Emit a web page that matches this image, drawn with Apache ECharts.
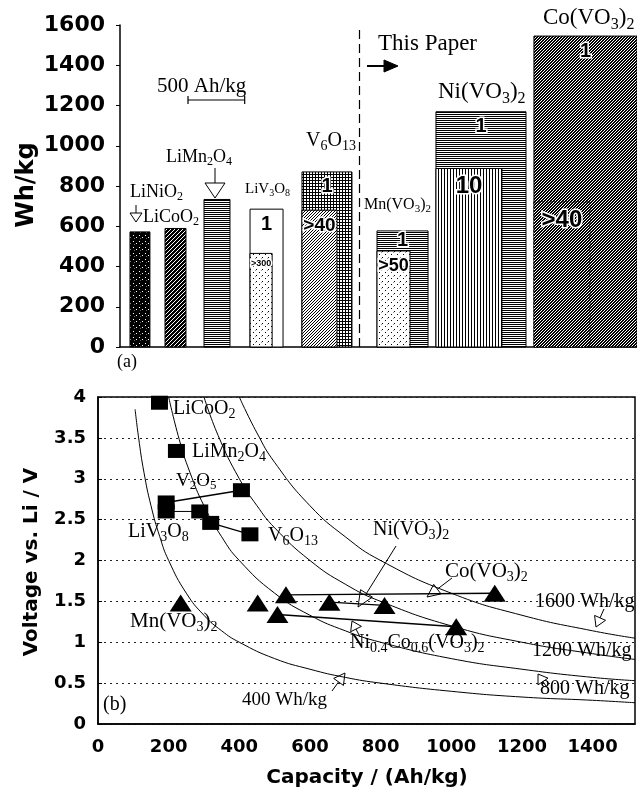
<!DOCTYPE html>
<html>
<head>
<meta charset="utf-8">
<title>Energy density and voltage vs capacity</title>
<script src="https://cdn.jsdelivr.net/npm/echarts@6/dist/echarts.min.js"></script>
<style>
  html, body { margin: 0; padding: 0; background: #fff; }
  #chart { width: 637px; height: 795px; }
</style>
</head>
<body>
<div id="chart"></div>
<script>
// ---- (a) bars: width = capacity (Ah/kg), height = energy (Wh/kg)
var barNames = ['LiNiO2', 'LiCoO2', 'LiMn2O4', 'LiV3O8', 'V6O13', 'Mn(VO3)2', 'Ni(VO3)2', 'Co(VO3)2'];
var barStart = [88, 397, 741, 1147, 1605, 2267, 2787, 3651];
var barCapacity = [176, 185, 229, 291, 441, 450, 794, 1123];
var barEnergy = [572, 589, 733, 685, 870, 577, 1169, 1545];
var innerCapacity = [0, 0, 0, 195, 309, 291, 582, 494];
var innerEnergy = [0, 0, 0, 465, 680, 477, 887, 721];
var outerLabel = ['', '', '', '1', '1', '1', '1', '1'];
var innerLabel = ['', '', '', '>300', '>40', '>50', '10', '>40'];
var dividerAt = 2110;
var energyTicks = [0, 200, 400, 600, 800, 1000, 1200, 1400, 1600];

// ---- (b) voltage vs capacity
var squareCap = [174, 222, 406, 193, 193, 288, 319, 430];
var squareVolt = [3.93, 3.34, 2.86, 2.71, 2.60, 2.60, 2.46, 2.32];
var triCap = [234, 452, 532, 508, 655, 811, 1014, 1123];
var triVolt = [1.48, 1.48, 1.58, 1.34, 1.49, 1.45, 1.19, 1.60];
var v2o5Line = [[193, 2.71], [406, 2.86]];
var liv3o8Line = [[193, 2.60], [288, 2.60]];
var v6o13Line = [[319, 2.46], [430, 2.32]];
var coLine = [[532, 1.58], [1123, 1.60]];
var niLine = [[655, 1.49], [811, 1.45]];
var niCoLine = [[508, 1.34], [1014, 1.19]];
var curve400 = [[105, 3.85], [115, 3.5], [130, 3.08], [150, 2.67], [175, 2.29], [200, 2.0], [250, 1.6], [300, 1.33], [350, 1.14], [400, 1.0], [500, 0.8], [600, 0.67], [700, 0.57], [800, 0.5], [1000, 0.4], [1200, 0.33], [1400, 0.29], [1520, 0.26]];
var curve800 = [[200, 4.0], [230, 3.48], [260, 3.08], [300, 2.67], [350, 2.29], [400, 2.0], [500, 1.6], [600, 1.33], [700, 1.14], [800, 1.0], [1000, 0.8], [1200, 0.67], [1400, 0.57], [1520, 0.53]];
var curve1200 = [[300, 4.0], [340, 3.53], [400, 3.0], [450, 2.67], [500, 2.4], [600, 2.0], [700, 1.71], [800, 1.5], [1000, 1.2], [1200, 1.0], [1400, 0.86], [1520, 0.79]];
var curve1600 = [[400, 4.0], [450, 3.56], [500, 3.2], [600, 2.67], [700, 2.29], [800, 2.0], [1000, 1.6], [1200, 1.33], [1400, 1.14], [1520, 1.05]];

var SANS = 'DejaVu Sans';
var SERIF = 'Liberation Serif';

// small fill textures, like the hatching of the print
function makePattern(size, bg, draw) {
    var c = document.createElement('canvas');
    c.width = size;
    c.height = size;
    var g = c.getContext('2d');
    g.fillStyle = bg;
    g.fillRect(0, 0, size, size);
    g.fillStyle = bg === '#000' ? '#fff' : '#000';
    draw(g);
    return { image: c, repeat: 'repeat' };
}
var pats = {
    speck: makePattern(6, '#000', function (g) { g.fillRect(1, 1, 1, 1); g.fillRect(4, 3, 1, 1); g.fillStyle = '#666'; g.fillRect(2, 4, 1, 1); }),
    hatchBlack: makePattern(4, '#000', function (g) { for (var k = 0; k < 4; k++) g.fillRect(k, 3 - k, 1, 1); }),
    lines2: makePattern(2, '#fff', function (g) { g.fillRect(0, 0, 2, 1); }),
    stipple: makePattern(6, '#fff', function (g) { g.fillRect(1, 2, 1, 1); g.fillRect(4, 5, 1, 1); g.fillStyle = '#999'; g.fillRect(3, 0, 1, 1); }),
    check: makePattern(3, '#fff', function (g) { g.fillRect(0, 0, 3, 1); g.fillRect(0, 0, 1, 3); }),
    hatch: makePattern(3, '#fff', function (g) { for (var k = 0; k < 3; k++) g.fillRect(k, 2 - k, 1, 1); }),
    hatchHeavy: makePattern(3, '#000', function (g) { for (var k = 0; k < 3; k++) g.fillRect(k, 2 - k, 1, 1); }),
    vlines: makePattern(3, '#fff', function (g) { g.fillRect(0, 0, 1, 3); }),
    white: '#fff'
};
var outerFill = ['speck', 'hatchBlack', 'lines2', 'white', 'check', 'lines2', 'lines2', 'hatchHeavy'];
var innerFill = ['', '', '', 'stipple', 'hatch', 'stipple', 'vlines', 'hatchHeavy'];

var barData = barNames.map(function (n, i) {
    return [barStart[i], barStart[i] + barCapacity[i], barEnergy[i], barStart[i] + innerCapacity[i], innerEnergy[i], i];
});

function renderBar(params, api) {
    var cs = params.coordSys;
    var xMax = cs.x + cs.width;
    var i = api.value(5);
    var base = api.coord([0, 0])[1];
    var x0 = api.coord([api.value(0), 0])[0];
    var x1 = Math.min(api.coord([api.value(1), 0])[0], xMax);
    var top = api.coord([0, api.value(2)])[1];
    var kids = [{
        type: 'rect',
        shape: { x: x0, y: top, width: x1 - x0, height: base - top },
        style: { fill: pats[outerFill[i]], stroke: '#000', lineWidth: 1 }
    }];
    var innerTop = base;
    if (api.value(4) > 0) {
        var ix1 = Math.min(api.coord([api.value(3), 0])[0], xMax);
        innerTop = api.coord([0, api.value(4)])[1];
        kids.push({
            type: 'rect',
            shape: { x: x0, y: innerTop, width: ix1 - x0, height: base - innerTop },
            style: { fill: pats[innerFill[i]], stroke: '#000', lineWidth: 1, lineDash: i === 7 ? [2, 2] : null }
        });
        var t = innerLabel[i];
        var fs = Math.min(24, Math.round((ix1 - x0) / (t.length * 0.6)));
        kids.push({
            type: 'text',
            style: {
                text: t, x: (x0 + ix1) / 2, y: innerTop + fs * 0.5 + 6,
                font: 'bold ' + fs + 'px "Liberation Sans"', fill: '#000',
                stroke: '#fff', lineWidth: 3,
                align: 'center', verticalAlign: 'middle', textAlign: 'center', textVerticalAlign: 'middle'
            }
        });
    }
    if (outerLabel[i]) {
        var gap = innerTop - top;
        kids.push({
            type: 'text',
            style: {
                text: outerLabel[i], x: (x0 + x1) / 2, y: top + Math.min(15, gap / 2),
                font: 'bold 20px "Liberation Sans"', fill: '#000',
                stroke: '#fff', lineWidth: 3,
                align: 'center', verticalAlign: 'middle', textAlign: 'center', textVerticalAlign: 'middle'
            }
        });
    }
    return { type: 'group', children: kids };
}

// chemical formula -> rich text; "_x" or "_[xy]" is a subscript
function chem(s) {
    var out = '', buf = '';
    for (var i = 0; i < s.length; i++) {
        if (s[i] === '_') {
            if (buf) { out += '{n|' + buf + '}'; buf = ''; }
            var sub;
            if (s[i + 1] === '[') { var j = s.indexOf(']', i); sub = s.slice(i + 2, j); i = j; }
            else { sub = s[i + 1]; i++; }
            out += '{s|' + sub + '}';
        } else {
            buf += s[i];
        }
    }
    if (buf) out += '{n|' + buf + '}';
    return out;
}
function label(text, x, y, size) {
    return {
        type: 'text', x: x, y: y, silent: true,
        style: {
            text: chem(text), fill: '#000',
            align: 'left', verticalAlign: 'middle', textAlign: 'left', textVerticalAlign: 'middle',
            rich: {
                n: { fontFamily: SERIF, fontSize: size, fill: '#000' },
                s: { fontFamily: SERIF, fontSize: Math.round(size * 0.68), fill: '#000', padding: [Math.round(size * 0.55), 0, 0, 0] }
            }
        }
    };
}
function title(text, x, y, size, rot) {
    return {
        type: 'text', x: x, y: y, rotation: rot || 0, silent: true,
        style: {
            text: text, fill: '#000', font: 'bold ' + size + 'px "' + SANS + '"',
            align: 'center', verticalAlign: 'middle', textAlign: 'center', textVerticalAlign: 'middle'
        }
    };
}
function arrow(x1, y1, x2, y2, len, w, filled, lw) {
    var dx = x2 - x1, dy = y2 - y1, d = Math.sqrt(dx * dx + dy * dy);
    var ux = dx / d, uy = dy / d;
    var bx = x2 - ux * len, by = y2 - uy * len;
    return [
        { type: 'line', silent: true, shape: { x1: x1, y1: y1, x2: bx, y2: by }, style: { stroke: '#000', lineWidth: lw || 1 } },
        { type: 'polygon', silent: true, shape: { points: [[x2, y2], [bx - uy * w, by + ux * w], [bx + uy * w, by - ux * w]] },
          style: { fill: filled ? '#000' : '#fff', stroke: '#000', lineWidth: 1 } }
    ];
}

var axisLine = { show: true, lineStyle: { color: '#000', width: 1.5 } };
function segment(data, width, smooth) {
    return {
        type: 'line', xAxisIndex: 1, yAxisIndex: 1, data: data, symbol: 'none', silent: true,
        smooth: !!smooth, lineStyle: { color: '#000', width: width }, z: 3
    };
}
function plain(v) { return String(v); }

var chart = echarts.init(document.getElementById('chart'), null, { renderer: 'canvas' });
chart.setOption({
    animation: false,
    backgroundColor: '#fff',
    grid: [
        { left: 120, top: 25, width: 517, height: 322 },
        { left: 98, top: 397, width: 537, height: 327, show: true, borderColor: '#000', borderWidth: 1.5 }
    ],
    xAxis: [
        { gridIndex: 0, type: 'value', min: 0, max: 4560, axisLine: axisLine, axisTick: { show: false }, axisLabel: { show: false }, splitLine: { show: false } },
        {
            gridIndex: 1, type: 'value', min: 0, max: 1520, interval: 200,
            axisLine: axisLine, axisTick: { show: false }, splitLine: { show: false },
            axisLabel: { showMaxLabel: false, margin: 14, color: '#000', fontFamily: SANS, fontWeight: 'bold', fontSize: 18, formatter: plain }
        }
    ],
    yAxis: [
        {
            gridIndex: 0, type: 'value', min: 0, max: 1600, interval: 200,
            axisLine: axisLine, axisTick: { show: true, length: 4, lineStyle: { color: '#000' } }, splitLine: { show: false },
            axisLabel: { margin: 15, color: '#000', fontFamily: SANS, fontWeight: 'bold', fontSize: 22,
                formatter: function (v) { return energyTicks.indexOf(v) >= 0 ? String(v) : ''; } }
        },
        {
            gridIndex: 1, type: 'value', min: 0, max: 4, interval: 0.5,
            axisLine: axisLine, axisTick: { show: true, inside: true, length: 4, lineStyle: { color: '#000' } },
            splitLine: { show: true, lineStyle: { color: '#222', width: 1.2, type: [2, 4] } },
            axisLabel: { margin: 12, color: '#000', fontFamily: SANS, fontWeight: 'bold', fontSize: 18, formatter: plain }
        }
    ],
    series: [
        {
            type: 'custom', xAxisIndex: 0, yAxisIndex: 0, silent: true,
            renderItem: renderBar, data: barData,
            markLine: {
                silent: true, symbol: 'none', label: { show: false },
                lineStyle: { color: '#000', width: 1.2, type: [9, 5] },
                data: [{ xAxis: dividerAt }]
            }
        },
        segment(curve400, 1, true), segment(curve800, 1, true), segment(curve1200, 1, true), segment(curve1600, 1, true),
        segment(v2o5Line, 1.4), segment(liv3o8Line, 1), segment(v6o13Line, 1.2),
        segment(coLine, 1.4), segment(niLine, 1.2), segment(niCoLine, 1.4),
        {
            type: 'scatter', xAxisIndex: 1, yAxisIndex: 1, silent: true, z: 5,
            symbol: 'rect', symbolSize: [17, 14], itemStyle: { color: '#000', opacity: 1 },
            data: squareCap.map(function (c, i) { return [c, squareVolt[i]]; })
        },
        {
            type: 'scatter', xAxisIndex: 1, yAxisIndex: 1, silent: true, z: 5,
            symbol: 'triangle', symbolSize: [22, 17], itemStyle: { color: '#000', opacity: 1 },
            data: triCap.map(function (c, i) { return [c, triVolt[i]]; })
        }
    ]
});

// scale bar "500 Ah/kg" from the top axis
var sb0 = 188;
var sbLen = chart.convertToPixel({ xAxisIndex: 0 }, 500) - chart.convertToPixel({ xAxisIndex: 0 }, 0);

var g = [
    title('Wh/kg', 27, 185, 24, Math.PI / 2),
    title('Voltage vs. Li / V', 32, 562, 20, Math.PI / 2),
    title('Capacity / (Ah/kg)', 367, 778, 20),
    // (a)
    label('LiNiO_2', 130, 192, 18),
    label('LiCoO_2', 143, 217, 18),
    label('LiMn_2O_4', 166, 157, 18),
    label('LiV_3O_8', 245, 189, 15),
    label('V_6O_[13]', 306, 141, 20),
    label('Mn(VO_3)_2', 364, 205, 16),
    label('Ni(VO_3)_2', 438, 92, 23),
    label('Co(VO_3)_2', 543, 18, 23),
    label('This Paper', 378, 44, 23),
    label('500 Ah/kg', 157, 86, 21),
    label('(a)', 117, 362, 18),
    { type: 'line', silent: true, shape: { x1: sb0, y1: 100, x2: sb0 + sbLen, y2: 100 }, style: { stroke: '#000', lineWidth: 1.2 } },
    { type: 'line', silent: true, shape: { x1: sb0, y1: 96, x2: sb0, y2: 104 }, style: { stroke: '#000', lineWidth: 1.2 } },
    { type: 'line', silent: true, shape: { x1: sb0 + sbLen, y1: 96, x2: sb0 + sbLen, y2: 104 }, style: { stroke: '#000', lineWidth: 1.2 } },
    // (b)
    label('LiCoO_2', 173, 409, 20),
    label('LiMn_2O_4', 192, 452, 20),
    label('V_2O_5', 176, 481, 19),
    label('LiV_3O_8', 128, 532, 20),
    label('V_6O_[13]', 268, 536, 20),
    label('Ni(VO_3)_2', 373, 530, 20),
    label('Co(VO_3)_2', 445, 571, 21),
    label('Mn(VO_3)_2', 130, 621, 21),
    label('Ni_[0.4]Co_[0.6](VO_3)_2', 350, 643, 20),
    label('1600 Wh/kg', 535, 602, 20),
    label('1200 Wh/kg', 532, 651, 20),
    label('800 Wh/kg', 540, 689, 20),
    label('400 Wh/kg', 242, 700, 19),
    label('(b)', 103, 705, 20)
];
g = g.concat(
    arrow(136, 205, 136, 222, 9, 6, false),
    arrow(215, 168, 215, 198, 15, 10, false),
    arrow(367, 66, 398, 66, 14, 6, true, 2),
    arrow(396, 546, 358, 607, 16, 7, false),
    arrow(452, 578, 427, 597, 13, 6, false),
    arrow(360, 637, 352, 621, 9, 6, false),
    arrow(604, 609, 596, 627, 10, 6, false),
    arrow(546, 686, 538, 674, 9, 6, false),
    arrow(332, 691, 345, 673, 11, 6, false)
);
chart.setOption({ graphic: { elements: g } });
</script>
</body>
</html>
